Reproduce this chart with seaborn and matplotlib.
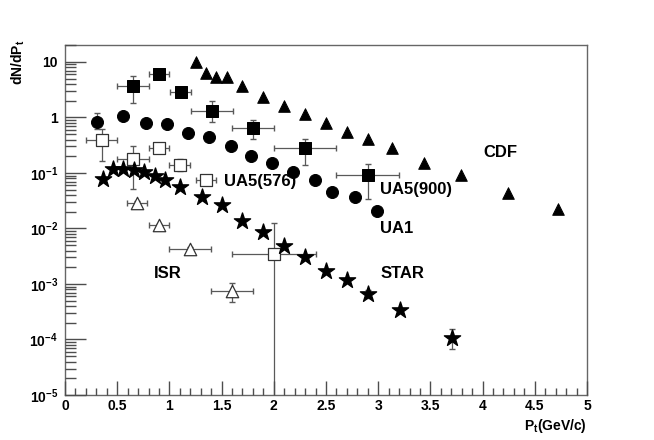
"""
dN/dPt spectra compilation (CDF, UA5, UA1, STAR, ISR) - log scale
"""

import numpy as np
import matplotlib
matplotlib.use("Agg")
import matplotlib.pyplot as plt
import matplotlib.ticker as mticker
import seaborn as sns

# ========== DATA ==========
cdf_pt = [1.25, 1.35, 1.45, 1.55, 1.70, 1.90, 2.10, 2.30, 2.50, 2.70, 2.90, 3.13, 3.44, 3.79, 4.24, 4.72]
cdf_y = [10.0, 6.3, 5.4, 5.3, 3.7, 2.3, 1.6, 1.15, 0.79, 0.55, 0.41, 0.28, 0.15, 0.092, 0.044, 0.022]

ua5_900_pt = [0.65, 0.90, 1.11, 1.41, 1.80, 2.30, 2.90]
ua5_900_y = [3.7, 6.0, 2.9, 1.3, 0.65, 0.28, 0.091]
ua5_900_ylo = [1.8, 5.5, 2.7, 0.83, 0.41, 0.14, 0.034]
ua5_900_yhi = [5.6, 6.5, 3.1, 2.0, 0.90, 0.41, 0.145]
ua5_900_xerr = [0.15, 0.10, 0.10, 0.20, 0.20, 0.30, 0.30]

ua1_pt = [0.31, 0.56, 0.78, 0.98, 1.18, 1.38, 1.59, 1.78, 1.98, 2.18, 2.39, 2.56, 2.78, 2.99]
ua1_y = [0.83, 1.06, 0.79, 0.76, 0.52, 0.45, 0.31, 0.20, 0.15, 0.105, 0.074, 0.046, 0.037, 0.021]
ua1_ylo = [0.62, 1.0, 0.75, 0.72, 0.49, 0.43, 0.29, 0.19, 0.14, 0.10, 0.070, 0.044, 0.035, 0.020]
ua1_yhi = [1.2, 1.12, 0.83, 0.80, 0.55, 0.47, 0.33, 0.21, 0.16, 0.11, 0.078, 0.048, 0.039, 0.022]

ua5_576_pt = [0.35, 0.65, 0.90, 1.10, 1.35, 2.00]
ua5_576_y = [0.39, 0.18, 0.28, 0.138, 0.074, 0.0035]
ua5_576_ylo = [0.166, 0.052, 0.25, 0.11, 0.065, 1e-6]
ua5_576_yhi = [0.62, 0.30, 0.31, 0.18, 0.083, 0.0126]
ua5_576_xerr = [0.15, 0.15, 0.10, 0.10, 0.10, 0.40]

star_pt = [0.36, 0.46, 0.56, 0.66, 0.76, 0.86, 0.96, 1.10, 1.31, 1.50, 1.70, 1.90, 2.10, 2.30, 2.50, 2.70, 2.90, 3.21, 3.71]
star_y = [0.078, 0.12, 0.12, 0.115, 0.105, 0.089, 0.074, 0.056, 0.037, 0.026, 0.0138, 0.0087,
          0.0048, 0.0030, 0.0017, 0.00118, 0.00066, 0.00034, 0.000107]
star_ylo = [0.075, 0.115, 0.115, 0.11, 0.10, 0.085, 0.071, 0.054, 0.035, 0.025, 0.0132, 0.0083,
            0.0046, 0.0028, 0.0016, 0.00110, 0.00055, 0.00031, 0.000068]
star_yhi = [0.081, 0.125, 0.125, 0.12, 0.11, 0.093, 0.077, 0.058, 0.039, 0.027, 0.0144, 0.0091,
            0.0050, 0.0032, 0.0018, 0.00126, 0.00078, 0.00037, 0.000155]

isr_pt = [0.69, 0.90, 1.20, 1.60]
isr_y = [0.029, 0.0115, 0.0043, 0.00074]
isr_ylo = [0.027, 0.0108, 0.0040, 0.00048]
isr_yhi = [0.031, 0.0122, 0.0046, 0.00105]
isr_xerr = [0.10, 0.10, 0.20, 0.20]

ytick_vals = [1e-5, 1e-4, 1e-3, 1e-2, 1e-1, 1, 10]
ytick_labels = [r"10$^{-5}$", r"10$^{-4}$", r"10$^{-3}$", r"10$^{-2}$", r"10$^{-1}$", "1", "10"]
xtick_vals = [0, 0.5, 1, 1.5, 2, 2.5, 3, 3.5, 4, 4.5, 5]
xtick_labels = ["0", "0.5", "1", "1.5", "2", "2.5", "3", "3.5", "4", "4.5", "5"]

# ========== STYLE ==========
sns.set_theme(style="ticks")
plt.rcParams["font.family"] = ["Liberation Sans", "DejaVu Sans"]
plt.rcParams["font.weight"] = "bold"
plt.rcParams["text.color"] = "black"
plt.rcParams["axes.axisbelow"] = False
plt.rcParams["axes.edgecolor"] = "0.4"
plt.rcParams["axes.linewidth"] = 1.0
plt.rcParams["xtick.direction"] = "in"
plt.rcParams["ytick.direction"] = "in"
plt.rcParams["xtick.bottom"] = True
plt.rcParams["ytick.left"] = True
plt.rcParams["xtick.top"] = False
plt.rcParams["ytick.right"] = False
plt.rcParams["xtick.color"] = "0.3"
plt.rcParams["ytick.color"] = "0.3"
plt.rcParams["xtick.labelcolor"] = "black"
plt.rcParams["ytick.labelcolor"] = "black"
plt.rcParams["xtick.labelsize"] = 10
plt.rcParams["ytick.labelsize"] = 10
plt.rcParams["xtick.major.size"] = 10
plt.rcParams["xtick.minor.size"] = 5
plt.rcParams["ytick.major.size"] = 15
plt.rcParams["ytick.minor.size"] = 8
plt.rcParams["xtick.major.width"] = 1.0
plt.rcParams["xtick.minor.width"] = 1.0
plt.rcParams["ytick.major.width"] = 1.0
plt.rcParams["ytick.minor.width"] = 1.0
plt.rcParams["xtick.major.pad"] = 3
plt.rcParams["ytick.major.pad"] = 5
plt.rcParams["mathtext.fontset"] = "custom"
plt.rcParams["mathtext.rm"] = "Liberation Sans:bold"
plt.rcParams["mathtext.it"] = "Liberation Sans:bold"
plt.rcParams["mathtext.bf"] = "Liberation Sans:bold"

fig = plt.figure(figsize=(6.54, 4.40), dpi=100)
ax = fig.add_axes([65 / 654, 1 - 395 / 440, 522 / 654, 350 / 440])
ax.set_yscale("log")

err_col = "0.35"


def yerr_of(y, lo, hi):
    y = np.asarray(y)
    return np.vstack([y - np.asarray(lo), np.asarray(hi) - y])


# error bars first, markers on top
ax.errorbar(ua5_900_pt, ua5_900_y, xerr=ua5_900_xerr, yerr=yerr_of(ua5_900_y, ua5_900_ylo, ua5_900_yhi),
            fmt="none", ecolor=err_col, elinewidth=0.9, capsize=2.5, zorder=2)
ax.errorbar(ua1_pt, ua1_y, yerr=yerr_of(ua1_y, ua1_ylo, ua1_yhi),
            fmt="none", ecolor=err_col, elinewidth=0.9, capsize=2.5, zorder=2)
ax.errorbar(ua5_576_pt, ua5_576_y, xerr=ua5_576_xerr, yerr=yerr_of(ua5_576_y, ua5_576_ylo, ua5_576_yhi),
            fmt="none", ecolor=err_col, elinewidth=0.9, capsize=2.5, zorder=2)
ax.errorbar(star_pt, star_y, yerr=yerr_of(star_y, star_ylo, star_yhi),
            fmt="none", ecolor=err_col, elinewidth=0.9, capsize=2.5, zorder=2)
ax.errorbar(isr_pt, isr_y, xerr=isr_xerr, yerr=yerr_of(isr_y, isr_ylo, isr_yhi),
            fmt="none", ecolor=err_col, elinewidth=0.9, capsize=2.5, zorder=2)

sns.scatterplot(x=cdf_pt, y=cdf_y, marker="^", s=70, color="black", edgecolor="black", ax=ax, zorder=3)
sns.scatterplot(x=ua5_900_pt, y=ua5_900_y, marker="s", s=80, color="black", edgecolor="black", ax=ax, zorder=3)
sns.scatterplot(x=ua1_pt, y=ua1_y, marker="o", s=75, color="black", edgecolor="black", ax=ax, zorder=3)
sns.scatterplot(x=ua5_576_pt, y=ua5_576_y, marker="s", s=80, color="white", edgecolor="0.2",
                linewidth=0.9, ax=ax, zorder=3)
sns.scatterplot(x=star_pt, y=star_y, marker="*", s=150, color="black", edgecolor="black", ax=ax, zorder=3)
sns.scatterplot(x=isr_pt, y=isr_y, marker="^", s=80, color="white", edgecolor="0.2",
                linewidth=0.9, ax=ax, zorder=3)

# ========== AXES ==========
ax.set_xlim(0, 5)
ax.set_ylim(1e-5, 20.2)
ax.xaxis.set_major_locator(mticker.FixedLocator(xtick_vals))
ax.xaxis.set_major_formatter(mticker.FixedFormatter(xtick_labels))
ax.xaxis.set_minor_locator(mticker.MultipleLocator(0.1))
ax.yaxis.set_major_locator(mticker.FixedLocator(ytick_vals))
ax.yaxis.set_major_formatter(mticker.FixedFormatter(ytick_labels))
ax.yaxis.set_minor_locator(mticker.LogLocator(base=10, subs=np.arange(2, 10), numticks=20))
ax.yaxis.set_minor_formatter(mticker.NullFormatter())
ax.tick_params(axis="both", which="both", direction="in", bottom=True, left=True,
               top=False, right=False, color="0.3")

# axis titles
fig.text(587 / 654, 1 - 426 / 440, r"P$_{\rm t}$(GeV/c)", ha="right", va="center",
         fontsize=10, fontweight="bold", color="black")
fig.text(18 / 654, 1 - 40 / 440, r"dN/dP$_{\rm t}$", ha="center", va="top",
         rotation=90, fontsize=10, fontweight="bold", color="black")

# dataset labels
lab_kw = dict(fontsize=12, fontweight="bold", va="center", ha="left", color="black",
              transform=ax.transData)
ax.text(1.52, 0.070, "UA5(576)", **lab_kw)
ax.text(3.02, 0.051, "UA5(900)", **lab_kw)
ax.text(4.01, 0.23, "CDF", **lab_kw)
ax.text(3.02, 0.0098, "UA1", **lab_kw)
ax.text(3.02, 0.00157, "STAR", **lab_kw)
ax.text(0.85, 0.00157, "ISR", **lab_kw)

fig.savefig("out.png", dpi=100)
